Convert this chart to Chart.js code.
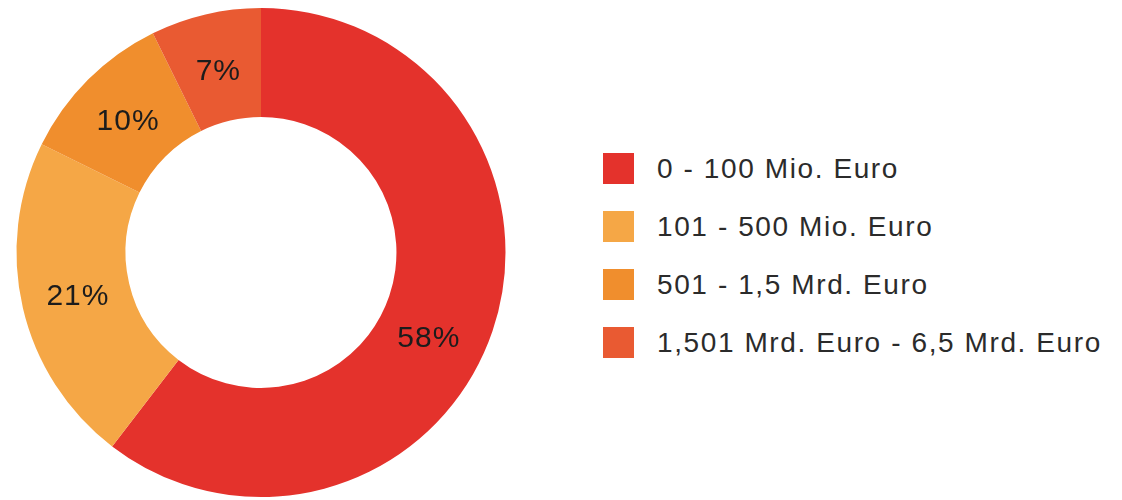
<!DOCTYPE html>
<html lang="de">
<head>
<meta charset="utf-8">
<title>Umsatzklassen</title>
<script src="https://cdn.jsdelivr.net/npm/chart.js@4/dist/chart.umd.min.js"></script>
<style>
  html, body { margin: 0; padding: 0; background: #fff; }
  body { width: 1122px; height: 500px; overflow: hidden; position: relative; font-family: "Liberation Sans", Arial, sans-serif; }
  #wrap { position: absolute; left: 0; top: 0; width: 522px; height: 500px; }
  #legend { position: absolute; left: 603px; top: 153px; margin: 0; padding: 0; list-style: none; }
  #legend li { display: flex; align-items: center; height: 31px; margin-bottom: 27px; }
  #legend .box { width: 31px; height: 31px; margin-right: 23px; flex: none; }
  #legend .txt { font-size: 28px; letter-spacing: 1.6px; color: #2b2b2b; white-space: nowrap; line-height: 31px; }
</style>
</head>
<body>
<div id="wrap"><canvas id="chart"></canvas></div>
<ul id="legend"></ul>

<script>
const categories = [
  "0 - 100 Mio. Euro",
  "101 - 500 Mio. Euro",
  "501 - 1,5 Mrd. Euro",
  "1,501 Mrd. Euro - 6,5 Mrd. Euro"
];
const shares = [58, 21, 10, 7];
const colors = ["#E4322C", "#F5A746", "#F08E2D", "#E95A32"];

// prozentwerte mittig in die segmente schreiben
const sliceLabels = {
  id: "sliceLabels",
  afterDatasetsDraw(chart, args, opts) {
    const ctx = chart.ctx;
    const meta = chart.getDatasetMeta(0);
    ctx.save();
    ctx.font = opts.font;
    ctx.letterSpacing = opts.spacing;
    ctx.fillStyle = opts.color;
    ctx.textAlign = "center";
    ctx.textBaseline = "middle";
    meta.data.forEach((arc, i) => {
      const p = arc.getProps(["x", "y", "startAngle", "endAngle", "innerRadius", "outerRadius"], true);
      const shift = (opts.shift[i] || 0) * Math.PI / 180;
      const a = (p.startAngle + p.endAngle) / 2 + shift;
      const r = (p.innerRadius + p.outerRadius) / 2 - 2;
      ctx.fillText(shares[i] + "%", p.x + Math.cos(a) * r, p.y + Math.sin(a) * r + 2);
    });
    ctx.restore();
  }
};

const chart = new Chart(document.getElementById("chart"), {
  type: "doughnut",
  data: {
    labels: categories,
    datasets: [{
      data: shares,
      backgroundColor: colors,
      borderWidth: 0
    }]
  },
  options: {
    responsive: true,
    maintainAspectRatio: false,
    animation: false,
    cutout: "55.4%",
    layout: { padding: { top: 8, bottom: 3, left: 0, right: 0 } },
    plugins: {
      legend: { display: false },
      tooltip: { enabled: false },
      sliceLabels: {
        font: "30px 'Liberation Sans', Arial, sans-serif",
        spacing: "1px",
        color: "#1c1c1c",
        shift: [8, 0, 0, 0]
      }
    }
  },
  plugins: [sliceLabels]
});

// legende als html neben dem diagramm
const items = Chart.overrides.doughnut.plugins.legend.labels.generateLabels(chart);
const ul = document.getElementById("legend");
items.forEach(it => {
  const li = document.createElement("li");
  const box = document.createElement("span");
  box.className = "box";
  box.style.background = it.fillStyle;
  const txt = document.createElement("span");
  txt.className = "txt";
  txt.textContent = it.text;
  li.appendChild(box);
  li.appendChild(txt);
  ul.appendChild(li);
});
</script>
</body>
</html>
